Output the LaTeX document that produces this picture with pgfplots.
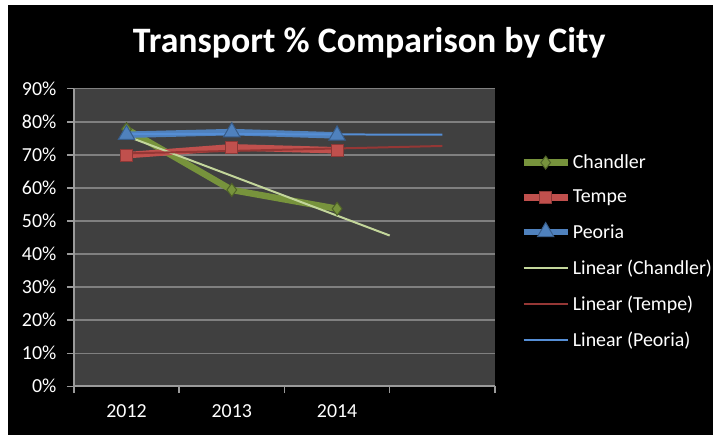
\documentclass[border=0pt]{standalone}
\usepackage{pgfplots}
\pgfplotsset{compat=1.18}
\usepackage{fontspec}
\setmainfont{Carlito}
\definecolor{plotbg}{HTML}{404040}
\definecolor{gridgray}{HTML}{808080}
\definecolor{axisgray}{HTML}{9A9A9A}
\definecolor{chgreen}{HTML}{77933C}
\definecolor{chgreendark}{HTML}{4F6228}
\definecolor{chtrend}{HTML}{C3D69B}
\definecolor{tered}{HTML}{C0504D}
\definecolor{tereddark}{HTML}{8C3836}
\definecolor{tetrend}{HTML}{953735}
\definecolor{peblue}{HTML}{4F81BD}
\definecolor{pebluedark}{HTML}{385D8A}
\definecolor{petrend}{HTML}{558ED5}
\begin{document}
\begin{tikzpicture}[x=1bp,y=1bp]
\fill[white] (0,0) rectangle (714,436);
\fill[black] (8,0) rectangle (714,431);
\node[anchor=base,text=white,font=\fontsize{36}{42}\selectfont\bfseries,inner sep=0pt] at (370,383) {Transport \% Comparison by City};
\begin{axis}[
  at={(74bp,49bp)}, anchor=south west, scale only axis,
  width=422bp, height=298bp,
  xmin=-0.5, xmax=3.5, ymin=0, ymax=90,
  xtick={-0.5,0.5,1.5,2.5,3.5},
  x tick label as interval,
  xticklabels={2012,2013,2014,{}},
  ytick={0,10,20,30,40,50,60,70,80,90},
  yticklabel={\pgfmathprintnumber{\tick}\%},
  /pgf/number format/assume math mode=true,
  axis x line*=bottom, axis y line*=left,
  axis line style={draw=axisgray, line width=1.5bp, -},
  tick style={draw=axisgray, line width=1.3bp},
  tick align=outside, major tick length=7bp,
  ymajorgrids, major grid style={draw=gridgray, line width=1.3bp},
  axis background/.style={fill=plotbg},
  tick label style={text=white, font=\fontsize{20}{24}\selectfont},
  yticklabel style={xshift=-7bp},
  xticklabel style={yshift=-8bp},
  legend style={at={(axis description cs:1.06,0.785)}, anchor=north west,
    draw=none, fill=none, text=white, font=\fontsize{20}{24}\selectfont,
    row sep=16bp, inner sep=0pt, nodes={inner sep=2bp}},
  legend cell align=left,
  legend image code/.code={\draw[mark repeat=2,mark phase=2,#1] plot coordinates {(0bp,0bp) (22bp,0bp) (44bp,0bp)};},
  clip=false,
]
\addplot[color=chgreen, line width=6.5bp, mark=diamond*, mark size=6.5bp,
  mark options={fill=chgreen, draw=chgreendark, line width=1bp}]
  coordinates {(0,77.8) (1,59.4) (2,53.7)};
\addlegendentry{Chandler}
\addplot[color=tered, line width=6.5bp, mark=square*, mark size=6bp,
  mark options={fill=tered, draw=tereddark, line width=1bp}]
  coordinates {(0,69.9) (1,72.3) (2,71.4)};
\addlegendentry{Tempe}
\addplot[color=peblue, line width=6.5bp, mark=triangle*, mark size=9.5bp,
  mark options={fill=peblue, draw=pebluedark, line width=1bp}]
  coordinates {(0,76.1) (1,76.9) (2,75.9)};
\addlegendentry{Peoria}
\addplot[color=chtrend, line width=2bp] coordinates {(0,75.7) (2.5,45.6)};
\addlegendentry{Linear (Chandler)}
\addplot[color=tetrend, line width=2bp] coordinates {(0,70.45) (3,72.7)};
\addlegendentry{Linear (Tempe)}
\addplot[color=petrend, line width=2bp] coordinates {(0,76.4) (3,76.1)};
\addlegendentry{Linear (Peoria)}
\end{axis}
\end{tikzpicture}
\end{document}
